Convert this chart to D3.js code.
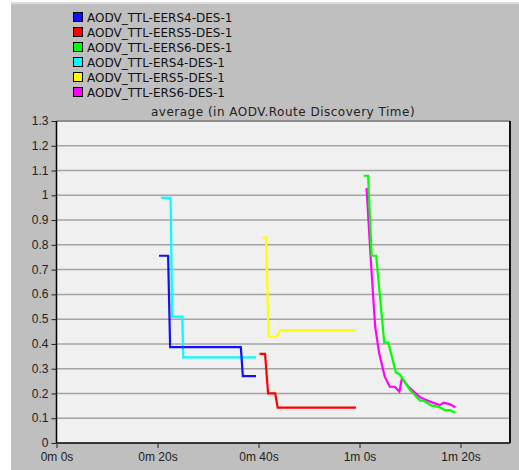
<!DOCTYPE html>
<html lang="en">
<head>
  <meta charset="UTF-8">
  <title>AODV Route Discovery Time</title>
  <script src="https://d3js.org/d3.v7.min.js"></script>
  <style>
    body { margin: 0; background: #fff; }
    text { font-family: "Liberation Sans", Arial, sans-serif; }
  </style>
</head>
<body>
<div id="chart"></div>
<script>
// legend / series names
const names = ["AODV_TTL-EERS4-DES-1", "AODV_TTL-EERS5-DES-1", "AODV_TTL-EERS6-DES-1",
               "AODV_TTL-ERS4-DES-1", "AODV_TTL-ERS5-DES-1", "AODV_TTL-ERS6-DES-1"];
const colors = ["#1010ff", "#ff0000", "#00ff00", "#00ffff", "#ffff00", "#ff00ff"];

// time (s) and value
const eers4T = [20.3, 22.1, 22.5, 36.5, 36.9, 39.5];
const eers4V = [0.756, 0.756, 0.387, 0.387, 0.27, 0.27];
const eers5T = [40.2, 41.3, 41.9, 43.3, 43.8, 59.3];
const eers5V = [0.36, 0.36, 0.2, 0.2, 0.143, 0.143];
const eers6T = [60.8, 61.7, 62.4, 63.3, 64.9, 65.7, 67.2, 68.0, 70.0, 72.0, 72.6, 74.3, 75.6, 76.9, 77.9, 79.0];
const eers6V = [1.079, 1.079, 0.756, 0.756, 0.405, 0.405, 0.285, 0.277, 0.214, 0.171, 0.171, 0.151, 0.147, 0.133, 0.133, 0.122];
const ers4T = [20.7, 22.6, 22.9, 24.9, 25.1, 39.5];
const ers4V = [0.99, 0.99, 0.51, 0.51, 0.346, 0.346];
const ers5T = [40.8, 41.5, 42.0, 43.6, 44.3, 59.3];
const ers5V = [0.829, 0.829, 0.429, 0.429, 0.456, 0.456];
const ers6T = [61.4, 62.2, 63.1, 63.9, 65.0, 66.0, 67.0, 67.9, 68.4, 69.7, 72.0, 74.0, 75.9, 76.7, 77.9, 79.0];
const ers6V = [1.03, 0.752, 0.47, 0.362, 0.268, 0.227, 0.227, 0.207, 0.261, 0.227, 0.184, 0.167, 0.153, 0.163, 0.156, 0.144];

const yTicks = [0, 0.1, 0.2, 0.3, 0.4, 0.5, 0.6, 0.7, 0.8, 0.9, 1, 1.1, 1.2, 1.3];
const xTicks = [0, 20, 40, 60, 80];
const xTickLabels = ["0m 0s", "0m 20s", "0m 40s", "1m 0s", "1m 20s"];

const w = 519, h = 470;
const margin = {top: 121, right: 9, bottom: 27, left: 56.5};
const gw = w - margin.left - margin.right;
const gh = h - margin.top - margin.bottom;

const svg = d3.select("#chart").append("svg")
  .attr("width", w)
  .attr("height", h);

// grey panel
svg.append("rect").attr("x", 11).attr("y", 2).attr("width", w - 11).attr("height", h - 2).attr("fill", "#bfbfbf");
svg.append("rect").attr("x", 11).attr("y", 2).attr("width", w - 11).attr("height", 2).attr("fill", "#dcdcdc");

const graph = svg.append("g")
  .attr("transform", `translate(${margin.left},${margin.top})`);

const x = d3.scaleLinear().domain([0, 89.8]).range([0, gw]);
const y = d3.scaleLinear().domain([0, 1.3]).range([gh, 0]);

graph.append("rect").attr("width", gw).attr("height", gh).attr("fill", "#f0f0f0");

// gridlines
graph.selectAll(".grid").data(yTicks.slice(1)).enter().append("line")
  .attr("x1", 0).attr("x2", gw)
  .attr("y1", d => y(d)).attr("y2", d => y(d))
  .attr("stroke", "#a4a4a4").attr("stroke-width", 1.5);

// frame: top dark grey, right black
graph.append("line").attr("x1", 0).attr("x2", gw).attr("y1", 0).attr("y2", 0)
  .attr("stroke", "#808080").attr("stroke-width", 1.5);
graph.append("line").attr("x1", gw).attr("x2", gw).attr("y1", 0).attr("y2", gh)
  .attr("stroke", "#111").attr("stroke-width", 2);

const yAxis = d3.axisLeft(y).tickValues(yTicks).tickSize(5).tickPadding(3)
  .tickFormat(d => d3.format("")(+d.toFixed(1)));
const xAxis = d3.axisBottom(x).tickValues(xTicks).tickSize(5).tickPadding(4)
  .tickFormat((d, i) => xTickLabels[i]);

const yAxisGroup = graph.append("g").call(yAxis);
const xAxisGroup = graph.append("g").attr("transform", `translate(0,${gh})`).call(xAxis);

[yAxisGroup, xAxisGroup].forEach(g => {
  g.select(".domain").attr("stroke", "#000").attr("stroke-width", 1.5);
  g.selectAll(".tick line").attr("stroke", "#222");
  g.selectAll("text").attr("fill", "#222").style("font-size", "12px")
    .style("font-family", "'Liberation Sans', Arial, sans-serif");
});
xAxisGroup.select(".domain").attr("d", `M0,0H${gw}`);
yAxisGroup.select(".domain").attr("d", `M0,${gh}V0`);
yAxisGroup.selectAll("text").attr("dy", "0.3em");

// title
svg.append("text")
  .attr("x", 283).attr("y", 116)
  .attr("text-anchor", "middle")
  .style("font-family", "'DejaVu Sans', sans-serif")
  .style("font-size", "12px").style("letter-spacing", "0.5px").attr("fill", "#222")
  .text("average (in AODV.Route Discovery Time)");

// series
const seriesT = [eers4T, eers5T, eers6T, ers4T, ers5T, ers6T];
const seriesV = [eers4V, eers5V, eers6V, ers4V, ers5V, ers6V];
const series = names.map((n, i) => ({
  name: n, color: colors[i],
  pts: seriesT[i].map((t, j) => [t, seriesV[i][j]])
}));

const line = d3.line().x(d => x(d[0])).y(d => y(d[1]));
const drawOrder = [3, 4, 5, 0, 1, 2];
graph.selectAll(".series").data(drawOrder.map(i => series[i])).enter().append("path")
  .attr("d", d => line(d.pts))
  .attr("fill", "none")
  .attr("stroke", d => d.color)
  .attr("stroke-width", 2.2)
  .attr("stroke-linejoin", "miter");

// legend
const legend = svg.selectAll(".legend").data(series).enter().append("g")
  .attr("transform", (d, i) => `translate(73,${12 + i * 15})`);
legend.append("rect").attr("x", 0.5).attr("y", 0.5).attr("width", 9).attr("height", 9)
  .attr("fill", d => d.color).attr("stroke", "#000").attr("stroke-width", 1);
legend.append("text").attr("x", 14).attr("y", 9.5)
  .style("font-family", "'DejaVu Sans', sans-serif")
  .style("font-size", "12px").attr("fill", "#111")
  .text(d => d.name);
</script>
</body>
</html>
